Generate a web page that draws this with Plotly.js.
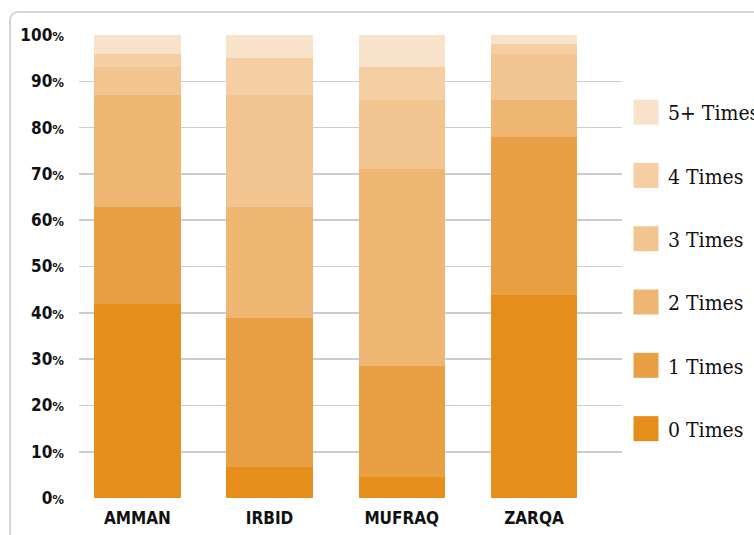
<!DOCTYPE html>
<html>
<head>
<meta charset="utf-8">
<script src="https://cdn.plot.ly/plotly-3.0.1.min.js"></script>
<style>
  html, body { margin:0; padding:0; background:#fff; width:754px; height:535px; overflow:hidden; }
  #frame { position:absolute; left:9px; top:11px; width:900px; height:700px; border:2px solid #d4d4d4; border-radius:9px; box-sizing:border-box; }
  #chart { position:absolute; left:0; top:0; width:754px; height:535px; }
</style>
</head>
<body>
<div id="frame"></div>
<div id="chart"></div>
<script>
// Categories (regions)
const categories = ["AMMAN", "IRBID", "MUFRAQ", "ZARQA"];
// Series names (legend)
const seriesNames = ["0 Times", "1 Times", "2 Times", "3 Times", "4 Times", "5+ Times"];
// Percent values per series, in category order
const times0  = [42.0,  6.6,  4.6, 43.8];
const times1  = [20.8, 32.2, 24.0, 34.2];
const times2  = [24.2, 24.0, 42.4,  7.9];
const times3  = [ 6.0, 24.2, 14.9, 10.1];
const times4  = [ 3.0,  8.0,  7.1,  2.0];
const times5p = [ 4.0,  5.0,  7.0,  2.0];
const seriesValues = [times0, times1, times2, times3, times4, times5p];
const seriesColors = ["#e58e1b", "#e9a045", "#efb572", "#f2c590", "#f5cfa3", "#f8e2c9"];
// Y tick labels
const yTickVals = [0, 10, 20, 30, 40, 50, 60, 70, 80, 90, 100];
const yTickText = yTickVals.map(v => v + "<span style='font-size:13px'>%</span>");

const traces = seriesNames.map((name, i) => ({
  type: "bar",
  name: name,
  x: categories,
  y: seriesValues[i],
  legendgroup: "g" + i,
  legendrank: seriesNames.length - i,
  marker: { color: seriesColors[i], line: { width: 0 } },
  hoverinfo: "x+y+name"
}));

const W = 754, H = 535;
const sansB = "'DejaVu Sans Condensed', 'DejaVu Sans', sans-serif";
const layout = {
  width: W, height: H,
  barmode: "stack",
  bargap: 0.347,
  paper_bgcolor: "rgba(0,0,0,0)",
  plot_bgcolor: "rgba(0,0,0,0)",
  margin: { l: 79, r: 132, t: 35, b: 37, pad: 0 },
  font: { family: sansB, color: "#111" },
  xaxis: {
    type: "category",
    range: [-0.4415, 3.666],
    showgrid: false,
    zeroline: false,
    showline: false,
    ticks: "",
    tickfont: { family: sansB, size: 17, color: "#111", weight: "bold" },
    ticklabelstandoff: 8
  },
  yaxis: {
    range: [0, 100],
    tickmode: "array",
    tickvals: yTickVals,
    ticktext: yTickText,
    showgrid: true,
    gridcolor: "#cdcdcd",
    gridwidth: 1.6,
    zeroline: false,
    showline: false,
    ticks: "",
    tickfont: { family: sansB, size: 17, color: "#111", weight: "bold" },
    ticklabelstandoff: 14
  },
  showlegend: true,
  legend: {
    traceorder: "grouped",
    xref: "container", yref: "container",
    x: 628 / W, xanchor: "left",
    y: 1 - 92 / H, yanchor: "top",
    font: { family: "'DejaVu Serif Condensed', 'DejaVu Serif', serif", size: 21, color: "#111" },
    tracegroupgap: 33,
    maxheight: 480,
    bgcolor: "rgba(0,0,0,0)",
    borderwidth: 0
  }
};

Plotly.newPlot("chart", traces, layout, { displayModeBar: false, staticPlot: true }).then(gd => {
  gd.querySelectorAll(".legend .legendpoints path").forEach(p => {
    p.setAttribute("d", "M10.5,12.5H-14.5V-12.5H10.5Z");
  });
});
</script>
</body>
</html>
